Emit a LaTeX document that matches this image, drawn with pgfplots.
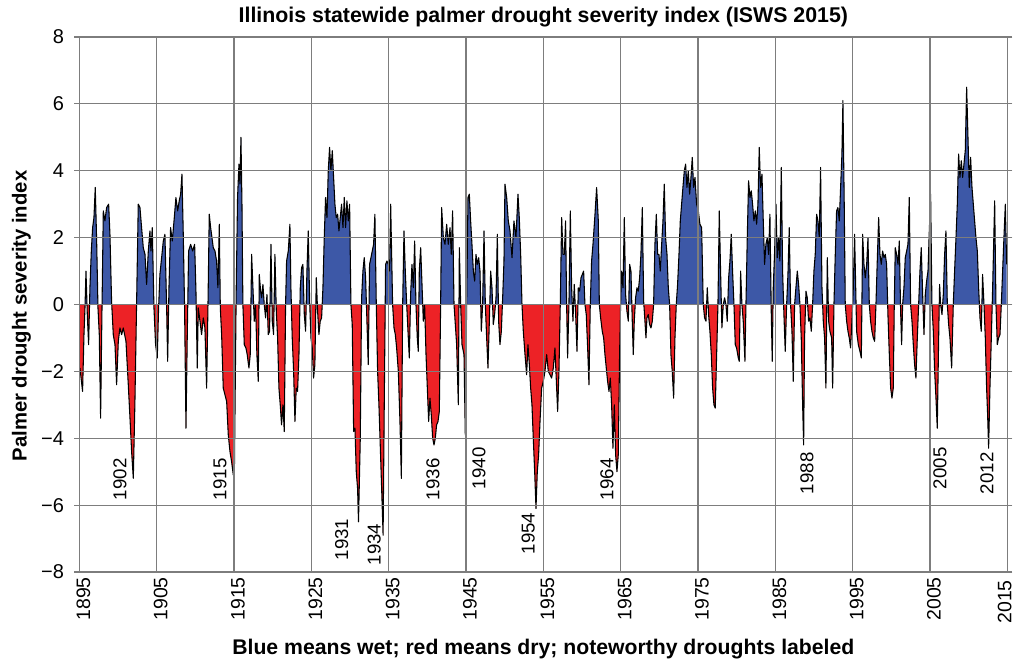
\documentclass[border=0pt]{standalone}
\usepackage{pgfplots}
\pgfplotsset{compat=1.18}
\usepackage{pgfplotstable}
\usepackage{fontspec}
\setmainfont{Liberation Sans}
\definecolor{wetblue}{RGB}{61,88,167}
\definecolor{dryred}{RGB}{237,34,38}
\definecolor{gridgray}{RGB}{125,125,125}

\pgfplotstableread{
yr v
1895.08 -1.9
1895.42 -2.6
1895.60 -0.9
1895.73 -0.1
1895.86 1.0
1896.03 -0.3
1896.20 -1.2
1896.37 0.5
1896.55 1.6
1896.72 2.3
1896.89 2.6
1897.06 3.5
1897.24 1.9
1897.41 -0.1
1897.58 -0.9
1897.75 -3.4
1897.92 -0.3
1898.10 2.8
1898.31 2.5
1898.53 2.9
1898.79 3.0
1898.96 2.1
1899.17 0.1
1899.39 -0.9
1899.61 -1.2
1899.82 -2.4
1900.04 -1.1
1900.25 -0.7
1900.47 -0.9
1900.68 -0.7
1901.03 -1.1
1901.33 -2.4
1901.55 -3.4
1901.76 -4.4
1901.98 -5.2
1902.19 -2.9
1902.41 0.1
1902.62 3.0
1902.84 2.9
1903.05 2.3
1903.27 1.7
1903.49 1.5
1903.70 0.6
1903.92 1.6
1904.13 2.2
1904.26 1.6
1904.43 2.3
1904.65 -0.1
1904.86 -1.2
1905.08 -1.6
1905.25 -0.1
1905.42 0.9
1905.64 1.4
1905.86 1.9
1906.07 2.1
1906.29 -0.1
1906.42 -1.7
1906.59 0.5
1906.80 2.3
1907.02 1.9
1907.28 2.6
1907.49 3.2
1907.71 2.8
1907.92 3.1
1908.10 3.3
1908.27 3.9
1908.44 2.1
1908.61 -0.1
1908.79 -3.7
1908.96 -0.9
1909.13 1.6
1909.39 1.8
1909.65 1.6
1909.91 1.8
1910.08 0.4
1910.25 -1.9
1910.38 -0.1
1910.60 -0.5
1910.81 -0.9
1911.03 -0.4
1911.24 -0.7
1911.46 -2.5
1911.63 -0.1
1911.80 2.7
1911.98 2.3
1912.15 2.0
1912.32 1.7
1912.54 1.6
1912.75 1.3
1912.92 0.5
1913.10 2.4
1913.23 -0.1
1913.40 -0.9
1913.61 -2.5
1913.83 -2.7
1914.05 -2.9
1914.26 -3.9
1914.48 -4.4
1914.69 -4.7
1914.91 -5.1
1915.05 -5.0
1915.29 0.5
1915.46 3.2
1915.64 4.2
1915.77 3.6
1915.90 5.0
1916.03 3.0
1916.15 0.0
1916.33 -1.2
1916.54 -1.3
1916.71 -1.5
1916.93 -1.9
1917.10 -1.5
1917.28 1.5
1917.45 0.5
1917.62 -0.5
1917.79 0.0
1917.96 -1.5
1918.14 -2.3
1918.27 0.9
1918.44 0.4
1918.57 0.2
1918.74 0.6
1918.91 0.0
1919.09 -0.4
1919.26 0.3
1919.43 -0.9
1919.60 -0.8
1919.78 1.8
1919.95 -0.5
1920.12 -0.9
1920.29 1.5
1920.47 -0.2
1920.64 -1.0
1920.81 -2.5
1920.98 -3.0
1921.15 -3.6
1921.33 -3.0
1921.50 -3.8
1921.67 0.0
1921.80 1.3
1922.02 1.6
1922.23 2.4
1922.36 0.5
1922.53 -1.0
1922.71 -2.0
1922.88 -3.5
1923.05 -2.5
1923.22 -2.6
1923.40 -1.5
1923.57 0.5
1923.74 1.1
1923.91 1.2
1924.09 -0.3
1924.26 -0.8
1924.43 1.0
1924.60 2.2
1924.78 0.1
1924.95 -1.0
1925.12 -1.3
1925.29 -2.2
1925.46 -1.8
1925.64 0.8
1925.81 -0.2
1925.98 -0.9
1926.15 -0.5
1926.33 -0.4
1926.50 0.5
1926.67 2.0
1926.84 3.2
1927.02 2.6
1927.19 4.0
1927.36 4.7
1927.53 4.0
1927.71 4.6
1927.88 3.8
1928.05 3.0
1928.22 2.6
1928.40 2.7
1928.57 2.2
1928.74 2.6
1928.91 3.0
1929.09 2.3
1929.26 3.2
1929.43 2.3
1929.60 3.1
1929.78 2.5
1929.95 3.0
1930.12 0.0
1930.29 -0.6
1930.47 -3.8
1930.64 -3.7
1930.81 -5.0
1930.98 -5.5
1931.10 -6.5
1931.33 -4.0
1931.50 0.2
1931.67 1.0
1931.84 1.4
1932.02 0.8
1932.19 -0.5
1932.36 -1.8
1932.53 1.2
1932.71 1.4
1932.88 1.6
1933.05 1.8
1933.22 2.7
1933.40 0.0
1933.57 -2.0
1933.74 -3.0
1933.91 -4.2
1934.09 -5.5
1934.28 -6.9
1934.43 -3.0
1934.60 1.2
1934.78 1.3
1934.95 1.2
1935.12 1.0
1935.26 3.0
1935.51 0.0
1935.69 -0.7
1935.86 -0.9
1936.03 -1.3
1936.25 -2.0
1936.46 -3.5
1936.64 -5.2
1936.81 0.0
1936.98 2.2
1937.15 1.0
1937.33 0.0
1937.54 -1.0
1937.67 -1.6
1937.84 0.3
1938.01 1.2
1938.19 0.5
1938.36 1.9
1938.53 0.0
1938.70 -1.0
1938.83 -1.4
1938.96 1.0
1939.14 1.7
1939.31 0.6
1939.48 -0.5
1939.65 0.0
1939.83 -1.5
1940.00 -2.5
1940.17 -3.5
1940.34 -2.8
1940.51 -3.3
1940.69 -4.0
1940.86 -4.2
1941.03 -4.0
1941.20 -3.6
1941.38 -3.5
1941.55 -3.2
1941.72 0.0
1941.85 2.9
1942.07 2.0
1942.28 1.8
1942.50 2.4
1942.71 1.8
1942.93 2.3
1943.10 1.5
1943.27 2.8
1943.45 0.0
1943.62 -0.6
1943.79 -1.2
1944.01 -3.0
1944.14 1.7
1944.31 0.0
1944.48 -1.2
1944.74 -1.5
1944.91 -3.9
1945.08 0.0
1945.26 3.2
1945.43 3.3
1945.60 2.5
1945.77 1.8
1945.95 1.0
1946.12 0.7
1946.29 1.5
1946.46 1.2
1946.64 1.4
1946.81 1.0
1946.98 -0.8
1947.15 0.0
1947.33 2.2
1947.50 0.0
1947.67 -1.0
1947.84 -1.9
1948.02 -0.5
1948.19 1.0
1948.36 0.5
1948.53 -0.6
1948.70 -0.3
1948.88 0.2
1949.05 2.1
1949.22 -0.5
1949.39 -1.2
1949.57 -0.8
1949.74 0.2
1949.91 1.3
1950.04 3.6
1950.26 3.2
1950.47 2.5
1950.69 2.2
1950.95 1.4
1951.20 2.5
1951.46 2.0
1951.72 3.3
1951.89 2.6
1952.07 1.5
1952.24 0.0
1952.41 -0.8
1952.63 -1.5
1952.84 -2.1
1953.01 -1.2
1953.19 -1.8
1953.36 -2.5
1953.53 -3.0
1953.70 -4.0
1953.88 -5.0
1954.05 -6.1
1954.22 -5.0
1954.39 -4.5
1954.57 -3.5
1954.78 -2.5
1954.99 -2.3
1955.21 -2.0
1955.43 -1.5
1955.64 -2.0
1955.86 -2.1
1956.07 -2.2
1956.29 -1.9
1956.50 -1.3
1956.72 -2.5
1956.85 -3.2
1957.02 -2.0
1957.19 0.0
1957.37 2.6
1957.54 1.5
1957.71 1.5
1957.88 2.5
1958.01 0.0
1958.14 -1.6
1958.31 0.0
1958.49 2.8
1958.66 0.5
1958.83 -0.5
1959.00 0.6
1959.18 -0.3
1959.35 -1.4
1959.52 0.5
1959.69 0.4
1959.87 0.8
1960.04 0.9
1960.21 1.0
1960.38 0.0
1960.55 -0.3
1960.73 -1.3
1960.90 -2.4
1961.07 0.0
1961.24 1.3
1961.42 1.8
1961.68 2.7
1961.89 3.5
1962.11 2.5
1962.24 0.0
1962.41 -0.4
1962.62 -0.8
1962.80 -1.0
1962.97 -1.5
1963.14 -1.9
1963.31 -2.3
1963.49 -2.6
1963.66 -2.2
1963.83 -3.0
1964.00 -4.3
1964.18 -3.0
1964.35 -4.5
1964.52 -5.0
1964.69 -4.5
1964.86 -1.5
1964.99 0.0
1965.12 1.0
1965.30 0.5
1965.47 2.6
1965.64 0.3
1965.81 -0.2
1965.99 -0.5
1966.16 1.2
1966.33 1.0
1966.50 -0.5
1966.63 -1.5
1966.76 -0.5
1966.93 0.2
1967.11 0.5
1967.28 0.4
1967.45 0.8
1967.62 1.5
1967.80 2.9
1967.97 0.1
1968.14 -0.5
1968.27 -1.0
1968.40 -0.4
1968.57 -0.3
1968.74 -0.6
1968.92 -0.7
1969.09 -0.5
1969.26 0.0
1969.43 1.8
1969.61 2.7
1969.78 1.5
1969.95 1.5
1970.12 1.0
1970.30 1.8
1970.47 2.5
1970.64 3.6
1970.81 2.0
1970.99 1.5
1971.16 0.5
1971.33 0.0
1971.50 -1.5
1971.67 -2.0
1971.85 -2.8
1972.02 -1.0
1972.19 0.0
1972.36 0.6
1972.54 1.5
1972.71 2.5
1972.88 3.0
1973.05 3.5
1973.23 4.0
1973.40 4.2
1973.57 3.5
1973.74 4.0
1973.92 3.3
1974.09 3.8
1974.26 4.4
1974.43 3.5
1974.61 3.8
1974.82 3.0
1975.04 2.8
1975.25 2.4
1975.47 2.3
1975.68 0.0
1975.85 -0.4
1976.03 -0.5
1976.20 0.5
1976.37 -0.3
1976.54 -0.8
1976.72 -1.5
1976.89 -2.5
1977.06 -3.0
1977.23 -3.1
1977.41 -1.5
1977.58 0.0
1977.75 2.8
1977.92 1.0
1978.09 -0.7
1978.27 0.0
1978.44 0.2
1978.61 0.0
1978.78 -0.5
1978.96 0.8
1979.13 1.3
1979.30 2.1
1979.47 1.0
1979.65 0.0
1979.82 -1.2
1979.99 -1.3
1980.21 -1.6
1980.34 -1.7
1980.51 1.0
1980.68 0.0
1980.85 -0.5
1981.07 -1.7
1981.20 0.0
1981.37 2.0
1981.54 3.7
1981.72 3.2
1981.89 3.4
1982.06 3.0
1982.23 2.5
1982.41 2.8
1982.58 2.4
1982.75 3.0
1982.92 4.7
1983.09 3.5
1983.27 3.9
1983.44 2.5
1983.61 1.2
1983.78 1.8
1983.96 2.0
1984.13 1.5
1984.30 2.7
1984.47 -0.2
1984.60 -1.7
1984.73 0.5
1984.91 1.6
1985.08 3.0
1985.25 1.4
1985.42 2.0
1985.59 1.3
1985.77 4.1
1985.94 1.0
1986.11 -0.3
1986.28 -1.4
1986.46 0.0
1986.63 0.9
1986.80 2.3
1986.97 0.0
1987.15 -0.8
1987.32 -2.3
1987.49 0.0
1987.66 0.5
1987.84 1.0
1988.01 0.6
1988.18 0.0
1988.35 -1.0
1988.53 -3.0
1988.66 -4.2
1988.78 -1.0
1988.96 0.4
1989.13 0.2
1989.30 -0.5
1989.47 -0.4
1989.65 -0.8
1989.82 0.0
1989.99 1.0
1990.16 1.5
1990.34 2.7
1990.51 2.5
1990.68 2.0
1990.85 4.1
1991.03 0.5
1991.20 -0.5
1991.37 -1.0
1991.54 -2.5
1991.72 1.4
1991.89 -0.5
1992.06 -0.8
1992.28 -1.0
1992.41 -2.5
1992.58 0.0
1992.75 1.5
1992.92 2.8
1993.09 2.9
1993.27 2.5
1993.44 3.5
1993.61 4.5
1993.74 6.1
1993.91 3.0
1994.04 0.0
1994.22 -0.5
1994.39 -0.8
1994.56 -1.0
1994.73 -1.3
1994.90 -0.5
1995.08 0.5
1995.25 2.1
1995.51 -0.8
1995.73 -1.2
1995.94 -1.4
1996.12 -1.6
1996.29 2.1
1996.46 1.2
1996.63 0.8
1996.81 1.2
1996.98 2.0
1997.15 0.0
1997.32 -0.5
1997.49 -0.8
1997.67 -1.0
1997.84 -1.1
1998.01 0.0
1998.18 1.3
1998.36 2.6
1998.53 1.5
1998.70 1.2
1998.87 1.6
1999.05 1.4
1999.22 1.5
1999.39 1.2
1999.56 -0.3
1999.74 -1.5
1999.91 -2.5
2000.08 -2.8
2000.25 -2.5
2000.38 0.0
2000.51 1.7
2000.68 1.5
2000.86 1.2
2001.03 1.9
2001.20 -0.2
2001.33 -1.2
2001.46 0.0
2001.63 0.5
2001.80 1.4
2001.98 1.6
2002.15 1.8
2002.32 3.2
2002.49 0.0
2002.67 -0.5
2002.84 -1.2
2003.01 -1.8
2003.18 -2.2
2003.36 -1.0
2003.53 0.0
2003.70 1.0
2003.87 1.7
2004.05 0.3
2004.22 -0.9
2004.39 0.3
2004.56 0.7
2004.74 1.0
2004.91 2.2
2005.08 3.3
2005.25 0.0
2005.43 -0.8
2005.60 -2.0
2005.77 -2.8
2005.94 -3.7
2006.12 -1.0
2006.24 0.6
2006.37 0.0
2006.55 -0.3
2006.72 0.3
2006.89 1.5
2007.06 2.2
2007.24 0.0
2007.41 -0.6
2007.58 -1.0
2007.80 -1.9
2008.01 0.0
2008.18 1.0
2008.36 2.0
2008.53 3.0
2008.70 4.5
2008.87 3.8
2009.05 4.3
2009.22 3.8
2009.39 4.2
2009.56 4.6
2009.74 6.5
2009.91 5.0
2010.08 3.5
2010.25 4.4
2010.43 3.5
2010.60 3.0
2010.77 2.5
2010.94 2.0
2011.12 1.6
2011.29 0.5
2011.46 -0.4
2011.63 -0.8
2011.80 0.9
2011.98 0.0
2012.15 -1.0
2012.32 -2.5
2012.45 -3.3
2012.58 -4.3
2012.75 -2.5
2012.93 -1.0
2013.10 0.5
2013.36 3.1
2013.53 0.0
2013.70 -1.2
2013.87 -1.0
2014.05 -0.9
2014.22 0.0
2014.39 1.0
2014.56 2.0
2014.74 3.0
2014.91 1.2
}\pdsi

\begin{document}
\begin{tikzpicture}
\useasboundingbox (-59.5pt,-68.25pt) rectangle (703.25pt,429pt);
\begin{axis}[
  at={(0,0)}, anchor=south west,
  scale only axis, width=696pt, height=401.25pt,
  xmin=1895, xmax=2015, ymin=-8, ymax=8,
  xtick={1895,1905,...,2015},
  xticklabels={1895,1905,1915,1925,1935,1945,1955,1965,1975,1985,1995,2005,{}},
  ytick={-8,-6,...,8},
  yticklabels={−8,−6,−4,−2,0,2,4,6,8},
  grid=major,
  grid style={gridgray, line width=0.8pt},
  axis line style={gridgray, line width=0.8pt},
  axis on top,
  tick align=outside,
  major tick length=3.75pt,
  tick style={gridgray, line width=0.8pt},
  xtick style={draw=none},
  yticklabel style={font=\fontsize{15}{18}\selectfont, xshift=-4.2pt},
  xticklabel style={font=\fontsize{14.6}{17}\selectfont, rotate=90, anchor=east, inner sep=0pt, yshift=-3pt},
  every axis title shift=0pt,
  title={Illinois statewide palmer drought severity index (ISWS 2015)},
  title style={font=\bfseries\fontsize{16}{19}\selectfont, at={(axis description cs:0.5,1.0267)}, anchor=base, yshift=0pt},
  xlabel={Blue means wet; red means dry; noteworthy droughts labeled},
  xlabel style={font=\bfseries\fontsize{15.9}{19}\selectfont, at={(axis description cs:0.5,-0.1551)}, anchor=base},
  ylabel={Palmer drought severity index},
  ylabel style={font=\bfseries\fontsize{15.2}{18}\selectfont, at={(axis description cs:-0.0568,0.4785)}, anchor=base},
]
\begin{scope}
\clip (axis cs:1895,0) rectangle (axis cs:2015,9);
\addplot[draw=none, fill=wetblue] table[x=yr,y=v]{\pdsi} -- (axis cs:2014.91,0) -- (axis cs:1895.08,0) -- cycle;
\end{scope}
\begin{scope}
\clip (axis cs:1895,0) rectangle (axis cs:2015,-9);
\addplot[draw=none, fill=dryred] table[x=yr,y=v]{\pdsi} -- (axis cs:2014.91,0) -- (axis cs:1895.08,0) -- cycle;
\end{scope}
\addplot[black, line width=0.8pt, line join=round] table[x=yr,y=v]{\pdsi};
\draw[black, line width=0.6pt] (axis cs:1895,0) -- (axis cs:2015,0);
\begin{scope}[every node/.style={rotate=90, anchor=east, inner sep=0pt, font=\fontsize{14}{16}\selectfont}]
\node at (axis cs:1900.25,-4.60) {1902};
\node at (axis cs:1913.18,-4.60) {1915};
\node at (axis cs:1928.92,-6.40) {1931};
\node at (axis cs:1933.13,-6.55) {1934};
\node at (axis cs:1940.73,-4.60) {1936};
\node at (axis cs:1946.67,-4.27) {1940};
\node at (axis cs:1953.05,-6.22) {1954};
\node at (axis cs:1963.23,-4.60) {1964};
\node at (axis cs:1989.09,-4.42) {1988};
\node at (axis cs:2006.29,-4.27) {2005};
\node at (axis cs:2012.37,-4.42) {2012};
\end{scope}
\end{axis}
\node[rotate=90, anchor=east, inner sep=0pt, font=\fontsize{14.6}{17}\selectfont] at (694pt,-6pt) {2015};
\end{tikzpicture}
\end{document}
